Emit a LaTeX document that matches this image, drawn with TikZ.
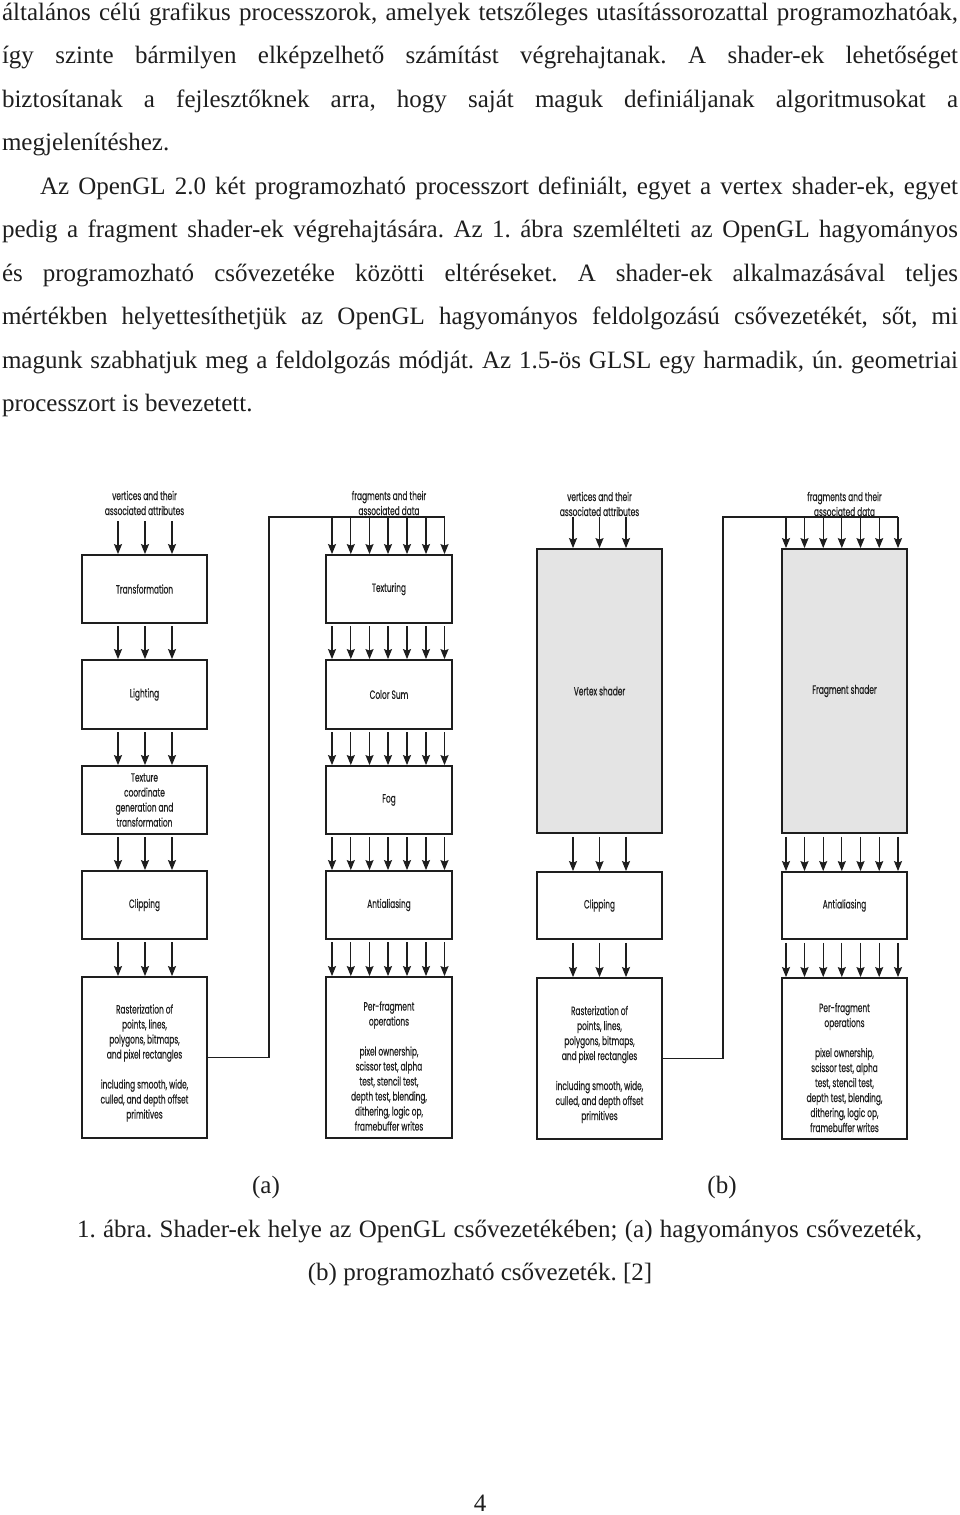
\documentclass[tikz,border=0pt]{standalone}
\usepackage{fontspec}
\setmainfont{Liberation Serif}
\newfontfamily\lblfont[FakeStretch=0.62,FakeBold=0.35]{Poppins}
\usetikzlibrary{arrows.meta,calc}
\definecolor{ink}{HTML}{1E1E1E}
\definecolor{shaderfill}{HTML}{E4E4E4}
\frenchspacing
\begin{document}
\begin{tikzpicture}[x=1pt,y=-1pt,
  body/.style={inner sep=0pt,outer sep=0pt,font=\fontsize{25}{29}\selectfont\frenchspacing,text=ink},
  lbl/.style={inner sep=0pt,align=center,text=ink,font=\lblfont\fontsize{12}{15}\selectfont},
  box/.style={lbl,draw=ink,line width=1.8pt,minimum width=125pt,minimum height=68pt},
  shaderbox/.style={box,fill=shaderfill},
  arr/.style={draw=ink,line width=1.3pt,-{Stealth[length=10pt,width=8pt,inset=1.5pt]}},
  feed/.style={draw=ink,line width=1.5pt}]
\useasboundingbox (0,0) rectangle (960,1515);

% ---------------- body text ----------------
\node[body,anchor=base west] (l1) at (2,20) {\makebox[956pt][s]{általános célú grafikus processzorok, amelyek tetszőleges utasítássorozattal programozhatóak,}};
\node[body,anchor=base west] (l2) at (2,63.5) {\makebox[956pt][s]{így szinte bármilyen elképzelhető számítást végrehajtanak. A shader-ek lehetőséget}};
\node[body,anchor=base west] (l3) at (2,107) {\makebox[956pt][s]{biztosítanak a fejlesztőknek arra, hogy saját maguk definiáljanak algoritmusokat a}};
\node[body,anchor=base west] (l4) at (2,150.5) {megjelenítéshez.};
\node[body,anchor=base west] (l5) at (40,194) {\makebox[918pt][s]{Az OpenGL 2.0 két programozható processzort definiált, egyet a vertex shader-ek, egyet}};
\node[body,anchor=base west] (l6) at (2,237.5) {\makebox[956pt][s]{pedig a fragment shader-ek végrehajtására. Az 1. ábra szemlélteti az OpenGL hagyományos}};
\node[body,anchor=base west] (l7) at (2,281) {\makebox[956pt][s]{és programozható csővezetéke közötti eltéréseket. A shader-ek alkalmazásával teljes}};
\node[body,anchor=base west] (l8) at (2,324.5) {\makebox[956pt][s]{mértékben helyettesíthetjük az OpenGL hagyományos feldolgozású csővezetékét, sőt, mi}};
\node[body,anchor=base west] (l9) at (2,368) {\makebox[956pt][s]{magunk szabhatjuk meg a feldolgozás módját. Az 1.5-ös GLSL egy harmadik, ún. geometriai}};
\node[body,anchor=base west] (l10) at (2,411.5) {processzort is bevezetett.};

% ---------------- panel (a) ----------------
\node[lbl] (tva) at (144.5,503) {vertices and their\\associated attributes};
\node[lbl] (tfa) at (389,503) {fragments and their\\associated data};
\coordinate (va) at (144.5,521);
\coordinate (fa) at (269,517);

\node[box] (va1) at (144.5,589) {Transformation};
\node[box,minimum height=69pt] (va2) at (144.5,694.5) {Lighting};
\node[box] (va3) at (144.5,800) {Texture\\coordinate\\generation and\\transformation};
\node[box] (va4) at (144.5,905) {Clipping};
\node[box,minimum height=161pt] (va5) at (144.5,1057.5) {};
\node[lbl] (va5t) at (144.5,1063) {Rasterization of\\points, lines,\\polygons, bitmaps,\\and pixel rectangles\\[15pt]including smooth, wide,\\culled, and depth offset\\primitives};

\node[box,minimum width=126pt] (fa1) at (389,589) {Texturing};
\node[box,minimum width=126pt,minimum height=69pt] (fa2) at (389,694.5) {Color Sum};
\node[box,minimum width=126pt] (fa3) at (389,800) {Fog};
\node[box,minimum width=126pt] (fa4) at (389,905) {Antialiasing};
\node[box,minimum width=126pt,minimum height=161pt] (fa5) at (389,1057.5) {};
\node[lbl] (fa5t) at (389,1066) {Per-fragment\\operations\\[15pt]pixel ownership,\\scissor test, alpha\\test, stencil test,\\depth test, blending,\\dithering, logic op,\\framebuffer writes};

% vertex arrows (a)
\foreach \dx in {-26.5,0.5,27.5} {
  \draw[arr] ($(va)+(\dx,0)$) -- ($(va1.north)+(\dx,0)$);
  \draw[arr,shorten <=2.5pt] ($(va1.south)+(\dx,0)$) -- ($(va2.north)+(\dx,0)$);
  \draw[arr,shorten <=2.5pt] ($(va2.south)+(\dx,0)$) -- ($(va3.north)+(\dx,0)$);
  \draw[arr,shorten <=2.5pt] ($(va3.south)+(\dx,0)$) -- ($(va4.north)+(\dx,0)$);
  \draw[arr,shorten <=2.5pt] ($(va4.south)+(\dx,0)$) -- ($(va5.north)+(\dx,0)$);
}
% feedback (a)
\draw[feed] (va5.east) -| (fa) -- ($(fa1.north |- fa)+(55.5,0)$);
\foreach \dx in {-57,-38.2,-19.5,-1,18,37,55.5} {
  \draw[arr] ($(fa1.north |- fa)+(\dx,0)$) -- ($(fa1.north)+(\dx,0)$);
  \draw[arr,shorten <=2.5pt] ($(fa1.south)+(\dx,0)$) -- ($(fa2.north)+(\dx,0)$);
  \draw[arr,shorten <=2.5pt] ($(fa2.south)+(\dx,0)$) -- ($(fa3.north)+(\dx,0)$);
  \draw[arr,shorten <=2.5pt] ($(fa3.south)+(\dx,0)$) -- ($(fa4.north)+(\dx,0)$);
  \draw[arr,shorten <=2.5pt] ($(fa4.south)+(\dx,0)$) -- ($(fa5.north)+(\dx,0)$);
}

% ---------------- panel (b) ----------------
\node[lbl] (tvb) at (599.5,504) {vertices and their\\associated attributes};
\node[lbl] (tfb) at (844.5,504) {fragments and their\\associated data};
\coordinate (vb) at (599.5,517);
\coordinate (fb) at (723,517);

\node[shaderbox,minimum height=284pt] (vb1) at (599.5,691) {Vertex shader};
\node[box,minimum height=67pt] (vb2) at (599.5,905.5) {Clipping};
\node[box,minimum height=161pt] (vb3) at (599.5,1058.5) {};
\node[lbl] (vb3t) at (599.5,1064.5) {Rasterization of\\points, lines,\\polygons, bitmaps,\\and pixel rectangles\\[15pt]including smooth, wide,\\culled, and depth offset\\primitives};

\node[shaderbox,minimum width=125pt,minimum height=284pt] (fb1) at (844.5,691) {Fragment shader};
\node[box,minimum height=67pt] (fb2) at (844.5,905.5) {Antialiasing};
\node[box,minimum height=161pt] (fb3) at (844.5,1058.5) {};
\node[lbl] (fb3t) at (844.5,1067.5) {Per-fragment\\operations\\[15pt]pixel ownership,\\scissor test, alpha\\test, stencil test,\\depth test, blending,\\dithering, logic op,\\framebuffer writes};

\foreach \dx in {-26.5,0,26.5} {
  \draw[arr] ($(vb)+(\dx,0)$) -- ($(vb1.north)+(\dx,0)$);
  \draw[arr,shorten <=3pt] ($(vb1.south)+(\dx,0)$) -- ($(vb2.north)+(\dx,0)$);
  \draw[arr,shorten <=3pt] ($(vb2.south)+(\dx,0)$) -- ($(vb3.north)+(\dx,0)$);
}
\draw[feed] (vb3.east) -| (fb) -- ($(fb1.north |- fb)+(53.5,0)$);
\foreach \dx in {-58.5,-40,-21.3,-2.7,16,34.7,53.5} {
  \draw[arr] ($(fb1.north |- fb)+(\dx,0)$) -- ($(fb1.north)+(\dx,0)$);
  \draw[arr,shorten <=3pt] ($(fb1.south)+(\dx,0)$) -- ($(fb2.north)+(\dx,0)$);
  \draw[arr,shorten <=3pt] ($(fb2.south)+(\dx,0)$) -- ($(fb3.north)+(\dx,0)$);
}

% ---------------- captions ----------------
\node[body,anchor=base] (suba) at (266,1193) {(a)};
\node[body,anchor=base] (subb) at (722,1193) {(b)};
\node[body,anchor=base west] (cap1) at (77,1237) {\makebox[845pt][s]{1. ábra. Shader-ek helye az OpenGL csővezetékében; (a) hagyományos csővezeték,}};
\node[body,anchor=base] (cap2) at (480,1280.5) {(b) programozható csővezeték. [2]};
\node[body,anchor=base] (pnum) at (480,1511) {4};
\end{tikzpicture}
\end{document}
